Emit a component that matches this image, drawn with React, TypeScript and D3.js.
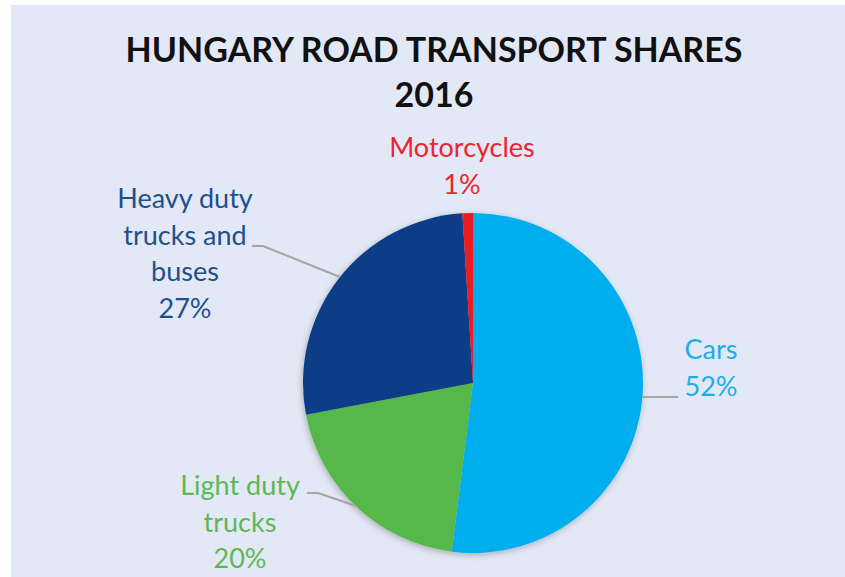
import React from "react";
import * as d3 from "d3";

const categories = ["Cars", "Light duty trucks", "Heavy duty trucks and buses", "Motorcycles"];
const values = [52, 20, 27, 1];
const colors = ["#00AEEF", "#57B84A", "#0B3D86", "#ED1C24"];
const labelColors = ["#1AAFEA", "#5CB952", "#1F4F8E", "#EE2430"];
const labelLines = [["Cars", "52%"], ["Light duty", "trucks", "20%"], ["Heavy duty", "trucks and", "buses", "27%"], ["Motorcycles", "1%"]];

const W = 845, H = 577;
const cx = 473, cy = 383, R = 170;

const labelPos = [
  { x: 711, y: 359 },
  { x: 240, y: 495 },
  { x: 185, y: 208 },
  { x: 462, y: 157 },
];
const leaders: ([number, number][] | null)[] = [
  [[643, 397], [678, 397]],
  [[307, 493], [318, 493], [356, 506]],
  [[252, 246], [263, 246], [340, 277]],
  null,
];

export default function App() {
  const pie = d3.pie<number>().sort(null).value((d) => d);
  const arcs = pie(values);
  const arc = d3.arc<d3.PieArcDatum<number>>().innerRadius(0).outerRadius(R);
  const line = d3.line();
  return (
    <svg width={W} height={H} style={{ position: "absolute", left: 0, top: 0 }}>
      <defs>
        <filter id="sh" x="-20%" y="-20%" width="140%" height="140%">
          <feDropShadow dx="-1" dy="2" stdDeviation="3" floodColor="#000" floodOpacity="0.25" />
        </filter>
      </defs>
      <rect x={0} y={0} width={W} height={H} fill="#ffffff" />
      <rect x={11} y={5} width={W - 11} height={H - 5} fill="#E3E8F6" />
      <text x={434} y={62} textAnchor="middle" fontFamily="Lato, 'Open Sans', sans-serif" fontWeight="bold" fontSize={34} fill="#111">
        HUNGARY ROAD TRANSPORT SHARES
      </text>
      <text x={434} y={107} textAnchor="middle" fontFamily="Lato, 'Open Sans', sans-serif" fontWeight="bold" fontSize={34} fill="#111">
        2016
      </text>
      <g transform={`translate(${cx},${cy})`} filter="url(#sh)">
        {arcs.map((a, i) => (
          <path key={categories[i]} d={arc(a) || ""} fill={colors[i]} />
        ))}
      </g>
      {leaders.map((pts, i) =>
        pts ? <path key={i} d={line(pts) || ""} fill="none" stroke="#A5A5A5" strokeWidth={2} /> : null
      )}
      {labelLines.map((lines, i) => (
        <text key={i} textAnchor="middle" fontFamily="Lato, 'Open Sans', sans-serif" fontSize={27} fill={labelColors[i]}>
          {lines.map((t, j) => (
            <tspan key={j} x={labelPos[i].x} y={labelPos[i].y + j * 36.5}>
              {t}
            </tspan>
          ))}
        </text>
      ))}
    </svg>
  );
}
